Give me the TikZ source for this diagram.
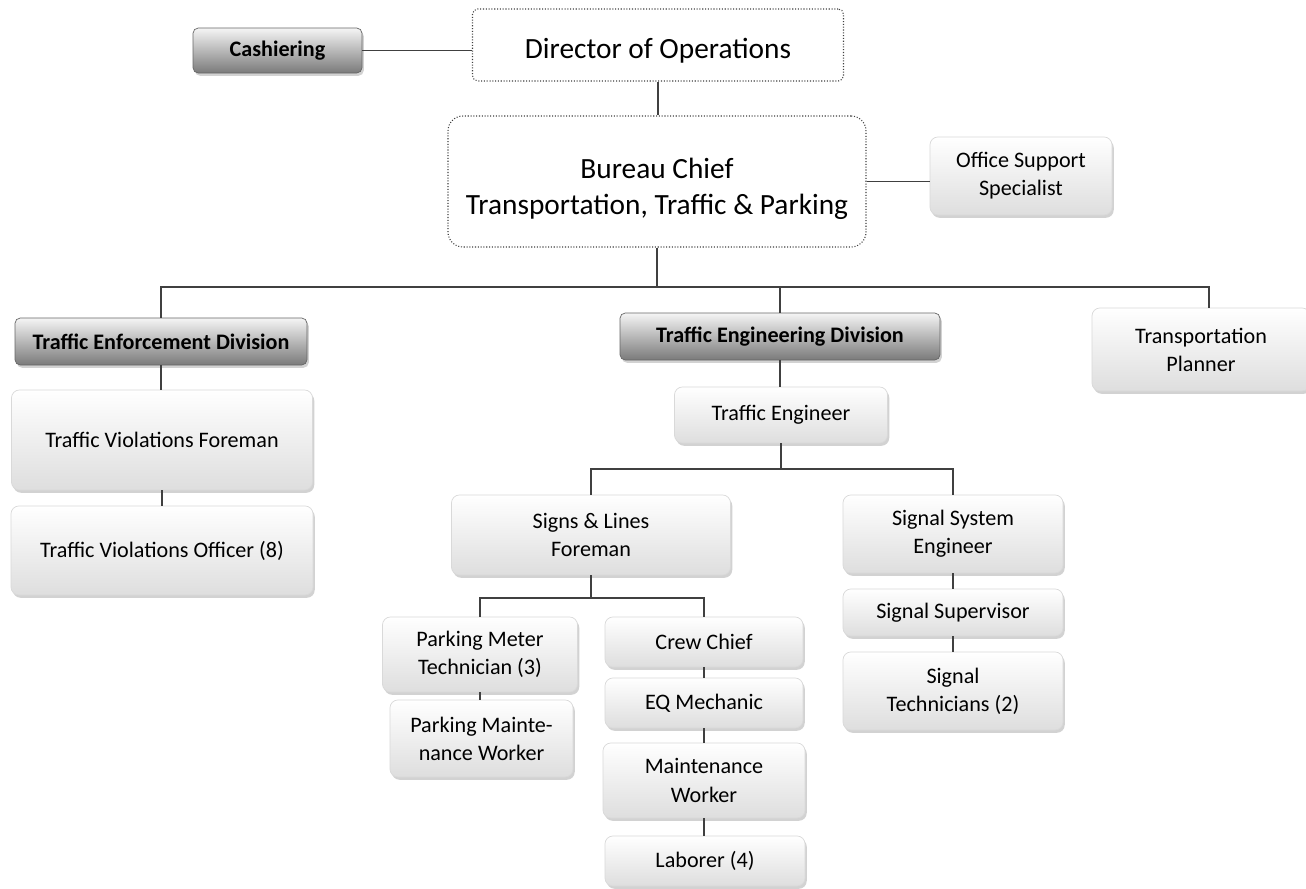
\documentclass[tikz,border=0pt]{standalone}
\usepackage{fontspec}
\setmainfont{Carlito}
\usetikzlibrary{shadows}

\begin{document}
\begin{tikzpicture}[x=0.02cm,y=-0.02cm,
  every node/.style={align=center,inner sep=0pt,font=\fontsize{12.6}{16}\selectfont},
  sz/.style 2 args={minimum width=#1*0.02cm,minimum height=#2*0.02cm},
  link/.style={draw=black!75,line width=0.8pt},
  lightbox/.style={draw=black!15,rounded corners=4.5pt,top color=white,bottom color=black!13,
    drop shadow={shadow xshift=1pt,shadow yshift=-1.6pt,fill=black!35,opacity=0.5}},
  darkbox/.style={draw=black!60,rounded corners=3pt,top color=black!4,bottom color=black!52,
    font=\fontsize{12.6}{16}\selectfont\bfseries,
    drop shadow={shadow xshift=1pt,shadow yshift=-1.6pt,fill=black!35,opacity=0.5}},
  dotbox/.style={draw=black!75,densely dotted,line width=0.6pt,font=\fontsize{16.7}{21}\selectfont}]
\fill[white] (0,0) rectangle (1306,889);
\useasboundingbox (0,0) rectangle (1306,889);
% top
\node[darkbox,sz={169}{45}] (cash) at (277.5,50.5) {Cashiering};
\node[dotbox,rounded corners=3pt,sz={371}{72}] (dir) at (658,45) {\rule{0pt}{18pt}Director of Operations};
\node[dotbox,rounded corners=8.5pt,sz={418}{131}] (bureau) at (657,181.5) {\rule{0pt}{20pt}Bureau Chief\\Transportation, Traffic \& Parking};
\node[lightbox,sz={182}{78}] (office) at (1021,176) {Office Support\\Specialist};
% divisions
\node[darkbox,sz={292}{47}] (enf) at (161,341.5) {Traffic Enforcement Division};
\node[lightbox,sz={301}{100}] (vfore) at (162,440) {Traffic Violations Foreman};
\node[lightbox,sz={302}{89}] (voff) at (162,550.5) {Traffic Violations Officer (8)};
\node[darkbox,sz={320}{47}] (engdiv) at (780,336.5) {Traffic Engineering Division};
\node[lightbox,sz={213}{56}] (teng) at (781,415) {Traffic Engineer};
\node[lightbox,sz={218}{83}] (tpl) at (1201,349.5) {Transportation\\Planner};
% engineering
\node[lightbox,sz={279}{80}] (signs) at (591,535) {Signs \& Lines\\Foreman};
\node[lightbox,sz={220}{78}] (sse) at (953,534) {Signal System\\Engineer};
\node[lightbox,sz={220}{47}] (ssup) at (953,612.5) {Signal Supervisor};
\node[lightbox,sz={220}{78}] (stech) at (953,691) {Signal\\Technicians (2)};
\node[lightbox,sz={195}{75}] (pmt) at (480,654.5) {Parking Meter\\Technician (3)};
\node[lightbox,sz={183}{77}] (pmw) at (481.5,738.5) {Parking Mainte-\\nance Worker};
\node[lightbox,sz={198}{50}] (crew) at (704,642) {Crew Chief};
\node[lightbox,sz={198}{50}] (eq) at (704,703) {EQ Mechanic};
\node[lightbox,sz={202}{75}] (mw) at (704,780.5) {Maintenance\\Worker};
\node[lightbox,sz={200}{50}] (lab) at (705,861) {Laborer (4)};
\coordinate (bus) at (657,287);
\coordinate (tebus) at (781,469);
\coordinate (slbus) at (590,598);
\draw[link] (cash.east) -- (cash.east -| dir.west);
\draw[link] (dir.south) -- (dir.south |- bureau.north);
\draw[link] (bureau.east) -- (bureau.east -| office.west);
\draw[link] (bureau.south) -- (bureau.south |- bus);
\draw[link] (enf.north) |- (bus) -| ([xshift=0.16cm]tpl.north);
\draw[link] (engdiv.north) -- (engdiv.north |- bus);
\draw[link] (enf.south) -- (enf.south |- vfore.north);
\draw[link] (vfore.south) -- (vfore.south |- voff.north);
\draw[link] (engdiv.south) -- (engdiv.south |- teng.north);
\draw[link] (teng.south) -- (teng.south |- tebus);
\draw[link] (signs.north) |- (tebus) -| (sse.north);
\draw[link] (sse.south) -- (ssup.north);
\draw[link] (ssup.south) -- (stech.north);
\draw[link] (signs.south) -- (signs.south |- slbus);
\draw[link] (pmt.north) |- (slbus) -| (crew.north);
\draw[link] (pmt.south) -- (pmt.south |- pmw.north);
\draw[link] (crew.south) -- (eq.north);
\draw[link] (eq.south) -- (eq.south |- mw.north);
\draw[link] (mw.south) -- (mw.south |- lab.north);
\end{tikzpicture}
\end{document}
